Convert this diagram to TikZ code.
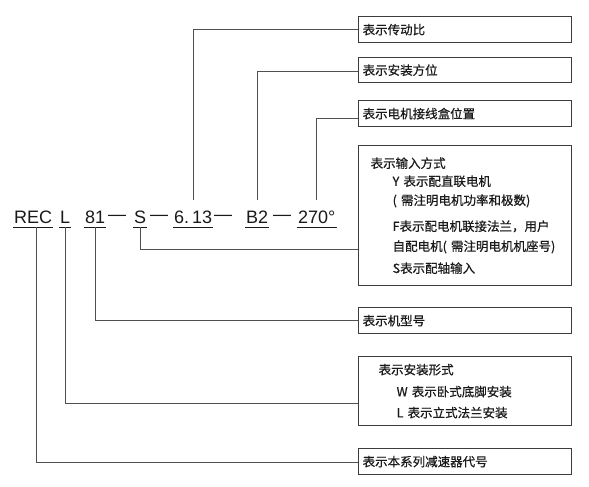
\documentclass[tikz,border=0pt]{standalone}
\usepackage{fontspec}
\setmainfont{Liberation Sans}
\newfontfamily\cjk[FakeBold=0.6]{Noto Sans CJK SC}
\usepackage{tikz}
\usetikzlibrary{
  positioning
}
\definecolor{LineGray}{HTML}{505050}
\definecolor{BoxGray}{HTML}{3C3C3C}
\definecolor{TextBlack}{HTML}{1A1A1A}
\tikzset{
  code/.style={
    anchor=base west,
    inner xsep=1pt,
    inner ysep=4pt,
    font=\fontsize{18}{22}\selectfont,
    text=TextBlack
  },
  dashmark/.style={
    anchor=base west,
    inner sep=0pt,
    font=\fontsize{18}{22}\selectfont,
    text=TextBlack
  },
  uline/.style={
    draw=TextBlack,
    line width=1.1pt
  },
  infobox/.style={
    draw=BoxGray,
    line width=1.3pt,
    anchor=north west,
    minimum width=213pt,
    minimum height=26pt,
    align=left,
    inner xsep=4pt,
    text width=205pt,
    font=\cjk\fontsize{12.5}{19}\selectfont,
    text=TextBlack
  },
  link/.style={
    draw=LineGray,
    line width=1.1pt
  }
}

\begin{document}
\begin{tikzpicture}[
  x=1pt,
  y=-1pt
]
  \useasboundingbox (0,0) rectangle (589,487);

  % model code
  \node[code] (rec) at (13,223) {REC};
  \node[code] (lt) at (59,223) {L};
  \node[code] (num) at (84,223) {81};
  \node[dashmark] (dasha) at (108,223) {\raisebox{2.5pt}{—}};
  \node[code] (sh) at (133,223) {S};
  \node[dashmark] (dashb) at (150,223) {\raisebox{2.5pt}{—}};
  \node[code] (ratio) at (173,223) {6.\kern3pt13};
  \node[dashmark] (dashc) at (214,223) {\raisebox{2.5pt}{—}};
  \node[code] (mount) at (245,223) {B2};
  \node[dashmark] (dashd) at (273,223) {\raisebox{2.5pt}{—}};
  \node[code] (term) at (297,223) {270°};

  \foreach \n in {rec,lt,num,sh,ratio,mount,term}
    \draw[uline] (\n.south west) -- (\n.south east);

  % explanation boxes
  \node[infobox] (ratiobox) at (358,16) {表示传动比};
  \node[infobox, minimum height=25pt] (mountbox) at (358,57) {表示安装方位};
  \node[infobox] (termbox) at (358,100) {表示电机接线盒位置};
  \node[
    infobox,
    minimum height=140pt,
    inner xsep=12pt,
    text width=189pt
  ] (inputbox) at (358,145) {
    表示输入方式\\[-1pt]
    \hspace*{22pt}Y 表示配直联电机\\
    \hspace*{22pt}( 需注明电机功率和极数)\\[7pt]
    \hspace*{22pt}F表示配电机联接法兰，用户\\[1pt]
    \hspace*{22pt}自配电机( 需注明电机机座号)\\[3pt]
    \hspace*{22pt}S表示配轴输入
  };
  \node[infobox] (modelbox) at (358,307) {表示机型号};
  \node[
    infobox,
    minimum height=69pt,
    inner xsep=20pt,
    text width=173pt
  ] (formbox) at (358,356) {
    表示安装形式\\[3pt]
    \hspace*{18pt}W 表示卧式底脚安装\\[2pt]
    \hspace*{18pt}L 表示立式法兰安装
  };
  \node[infobox] (seriesbox) at (358,448) {表示本系列减速器代号};

  % connectors
  \draw[link] ([yshift=6pt]ratio.north) |- (ratiobox.west);
  \draw[link] ([yshift=6pt]mount.north) |- ([yshift=-1pt]mountbox.west);
  \draw[link] ([yshift=6pt]term.north) |- ([yshift=-5pt]termbox.west);
  \draw[link] (sh.south) |- ([yshift=-34pt]inputbox.west);
  \draw[link] (num.south) |- (modelbox.west);
  \draw[link] (lt.south) |- ([yshift=-12pt]formbox.west);
  \draw[link] ([xshift=3pt]rec.south) |- ([yshift=-1pt]seriesbox.west);

\end{tikzpicture}
\end{document}
